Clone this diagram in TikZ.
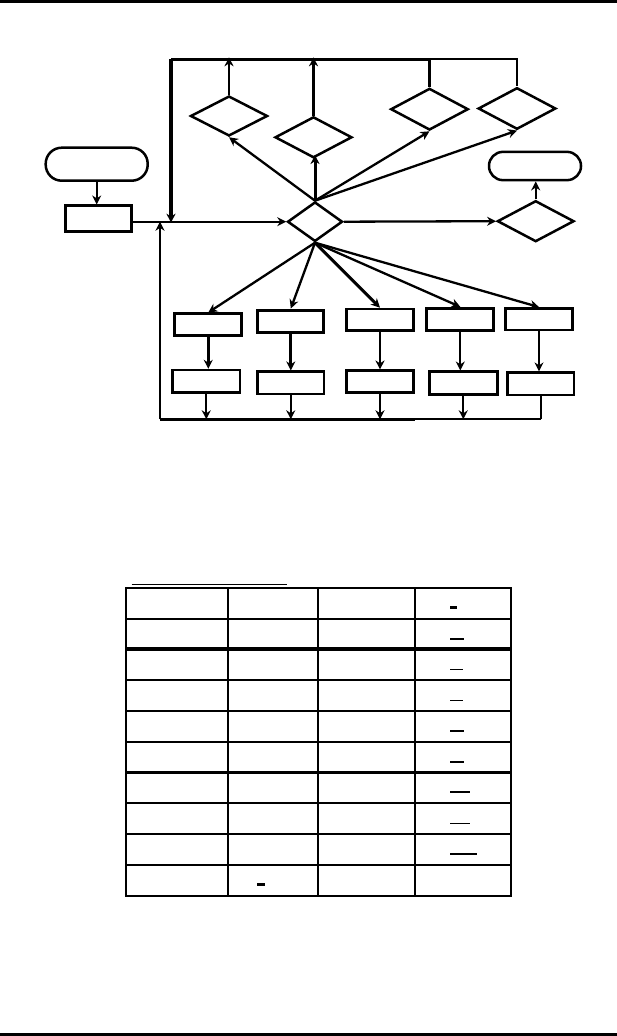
\documentclass[tikz,border=0pt]{standalone}
\usetikzlibrary{shapes.geometric,arrows.meta}
\begin{document}
\begin{tikzpicture}[x=1pt,y=-1pt,
  ln/.style={line width=2.3pt},
  arr/.style={line width=2.3pt,-{Stealth[length=9pt,width=9pt]}},
  boxn/.style={draw,line width=2.5pt,rectangle,inner sep=0pt,minimum width=#1},
  boxn/.default=66pt,
  dec/.style={draw,line width=2.5pt,diamond,inner sep=0pt},
  term/.style={draw,line width=2.5pt,rectangle,inner sep=0pt},
  tbl/.style={line width=2.3pt,line cap=rect}]
\useasboundingbox (0,0) rectangle (617,1036);
\fill (0,0) rectangle (617,2.5);
\fill (0,1032.5) rectangle (617,1036);
% terminals and boxes
\node[term,rounded corners=16pt,minimum width=102pt,minimum height=33pt] (start) at (96.7,164.2) {};
\node[boxn,minimum height=26pt] (init) at (98.3,218.7) {};
\node[term,rounded corners=14pt,minimum width=92pt,minimum height=28.3pt] (end) at (535,166) {};
% decisions
\node[dec,minimum width=55pt,minimum height=39.5pt] (d0) at (315,221.7) {};
\node[dec,minimum width=77pt,minimum height=40pt] (d1) at (229,116) {};
\node[dec,minimum width=77pt,minimum height=41pt] (d2) at (313.5,137.3) {};
\node[dec,minimum width=77.6pt,minimum height=41.7pt] (d3) at (429.5,109.2) {};
\node[dec,minimum width=77.7pt,minimum height=41.6pt] (d4) at (517,108.5) {};
\node[dec,minimum width=76.7pt,minimum height=41pt] (d5) at (535.7,221.2) {};
% process rows
\node[boxn=66.7pt,minimum height=21.7pt,line width=3pt] (b1) at (208.3,324.8) {};
\node[boxn=66.3pt,minimum height=22.3pt,line width=3pt] (b2) at (290.8,321.2) {};
\node[boxn=66.7pt,minimum height=21.7pt] (b3) at (380,319.8) {};
\node[boxn=67.3pt,minimum height=21.7pt,line width=3pt] (b4) at (460.3,319.2) {};
\node[boxn=66.7pt,minimum height=21.7pt] (b5) at (539,319.2) {};
\node[boxn=67.3pt,minimum height=22.3pt] (c1) at (206.3,381.2) {};
\node[boxn=66.3pt,minimum height=22.3pt] (c2) at (290.8,382.8) {};
\node[boxn=66.7pt,minimum height=22pt] (c3) at (380,381.7) {};
\node[boxn=68pt,minimum height=22.6pt] (c4) at (463.3,383) {};
\node[boxn=66.3pt,minimum height=22.3pt] (c5) at (540.8,383.8) {};
% coordinates of the loops
\coordinate (tl) at (171,59.3);
\coordinate (bl) at (160,419.3);
% top loop
\draw[line width=3.2pt] (tl) -- (d3.north |- tl);
\draw[ln] (d3.north |- tl) -- (d4.north |- tl) -- (d4.north);
\draw[ln] (d3.north) -- (d3.north |- tl);
\draw[line width=3.2pt,-{Stealth[length=9pt,width=9pt]}] (tl) -- ([yshift=-1pt]tl |- d0.west);
\draw[arr] (d1.north) -- ([yshift=2pt]d1.north |- tl);
\draw[arr] (d2.north) -- ([yshift=2pt]d2.north |- tl);
% main flow
\draw[arr] (start.south) -- (start.south |- init.north);
\draw[arr] (init.east |- d0.west) -- (d0.west);
\draw[arr] (d0.east) -- (d5.west);
\draw[arr] (d5.north) -- (d5.north |- end.south);
\draw[arr] (d0.north) -- (d1.south);
\draw[line width=3pt,-{Stealth[length=9pt,width=9pt]}] (d0.north) -- ([yshift=4pt]d0.north |- d2.south);
\draw[arr] (d0.north) -- (d3.south);
\draw[arr] (d0.north) -- (d4.south);
\draw[arr] (d0.south) -- (b1.north);
\draw[arr] (d0.south) -- (b2.north);
\draw[line width=3pt,-{Stealth[length=9pt,width=9pt]}] (d0.south) -- (b3.north);
\draw[arr] (d0.south) -- (b4.north);
\draw[arr] (d0.south) -- (b5.north);
\draw[line width=3pt,-{Stealth[length=9pt,width=9pt]}] (b1.south) -- (b1.south |- c1.north);
\draw[line width=3pt,-{Stealth[length=9pt,width=9pt]}] (b2.south) -- (b2.south |- c2.north);
\foreach \i in {3,4,5} {\draw[arr] (b\i.south) -- (b\i.south |- c\i.north);}
\foreach \i in {1,...,4} {\draw[arr] (c\i.south) -- (c\i.south |- bl);}
\draw[ln] (c5.south) -- (c5.south |- bl);
% bottom loop
\draw[line width=3.2pt] (bl) -- (415,419.3);
\draw[ln] (415,419.3) -- (c5.south |- bl);
\draw[ln,-{Stealth[length=9pt,width=9pt]}] (bl) -- (bl |- d0.west);
% table
\draw[line width=1pt] (131.7,584.3) -- (286.7,584.3);
\draw[tbl] (125.7,587.7) rectangle (511,895.7);
\foreach \x in {227.7,318.3,415} {\draw[tbl] (\x,587.7) -- (\x,895.7);}
\foreach \y in {619,680,711,742.3,803.3,834,865} {\draw[tbl] (125.7,\y) -- (511,\y);}
\foreach \y in {649,772.3} {\draw[line width=3.2pt] (125.7,\y) -- (511,\y);}
\draw[line width=2.5pt] (450,607.7) -- (456.7,607.7);
\draw[line width=2.2pt] (450,639) -- (464,639);
\draw[line width=1pt] (450,669) -- (462.7,669);
\draw[line width=1pt] (450,700) -- (462.7,700);
\draw[line width=2.2pt] (450,731) -- (464,731);
\draw[line width=2.2pt] (450,761.7) -- (464,761.7);
\draw[line width=2.2pt] (450,792.3) -- (470,792.3);
\draw[line width=1pt] (450,823.3) -- (470,823.3);
\draw[line width=2.2pt] (450,854) -- (476.7,854);
\draw[line width=2.5pt] (257.3,884.3) -- (265,884.3);
\end{tikzpicture}
\end{document}
